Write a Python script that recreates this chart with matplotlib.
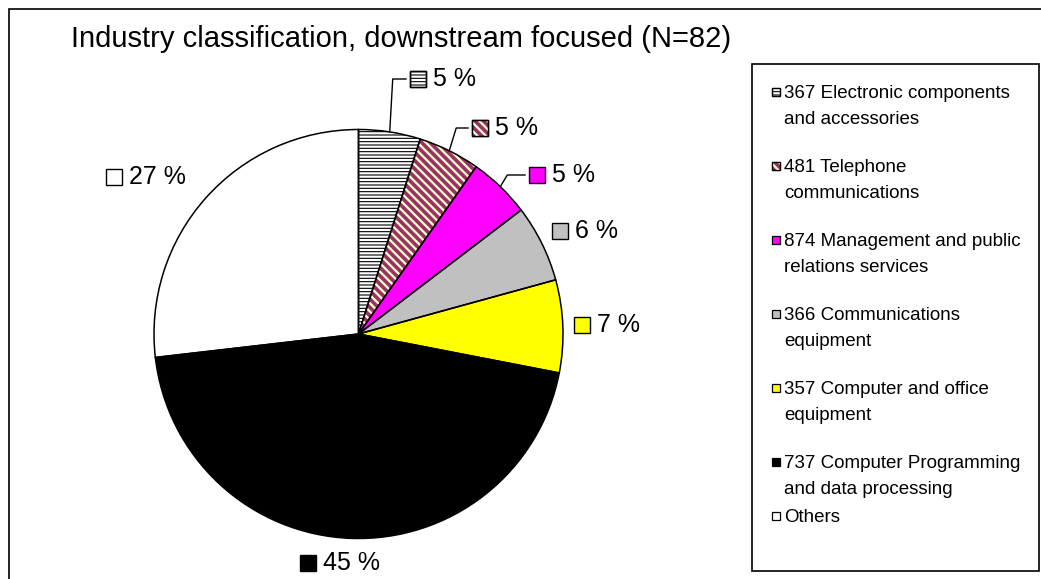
import matplotlib
matplotlib.use("Agg")
import matplotlib.pyplot as plt
from matplotlib.patches import Rectangle
import numpy as np

plt.rcParams['font.family'] = ['Liberation Sans', 'DejaVu Sans']
plt.rcParams['hatch.linewidth'] = 1.0

title = "Industry classification, downstream focused (N=82)"
categories = ["367 Electronic components\nand accessories",
              "481 Telephone\ncommunications",
              "874 Management and public\nrelations services",
              "366 Communications\nequipment",
              "357 Computer and office\nequipment",
              "737 Computer Programming\nand data processing",
              "Others"]
counts = [4, 4, 4, 5, 6, 37, 22]
pct_labels = ["5 %", "5 %", "5 %", "6 %", "7 %", "45 %", "27 %"]

facecolors = ["white", "#993366", "#FF00FF", "#C0C0C0", "#FFFF00", "black", "white"]
hatches = ["-----", "\\\\\\\\", None, None, None, None, None]
hatchcolors = ["black", "#FFFFCC", None, None, None, None, None]
hatchwidths = [0.8, 1.6, 1, 1, 1, 1, 1]

W, H = 1041, 579
fig = plt.figure(figsize=(W / 100, H / 100), dpi=100)
ax = fig.add_axes([0, 0, 1, 1])


def Y(py):
    return H - py


cx, cy, R = 358.5, Y(334), 204.5

# fill + hatch layer
wedges, _ = ax.pie(counts, center=(cx, cy), radius=R, startangle=90,
                   counterclock=False, frame=True,
                   wedgeprops=dict(linewidth=0))
for w, fc, h, hc, hw in zip(wedges, facecolors, hatches, hatchcolors, hatchwidths):
    w.set_facecolor(fc)
    if h:
        w.set_hatch(h)
        w.set_edgecolor(hc)
        if hasattr(w, 'set_hatch_linewidth'):
            w.set_hatch_linewidth(hw)
    else:
        w.set_edgecolor(fc)
# outline layer
outl, _ = ax.pie(counts, center=(cx, cy), radius=R, startangle=90,
                 counterclock=False, frame=True,
                 wedgeprops=dict(fill=False, edgecolor='black', linewidth=1.1))
ax.set_xlim(0, W)
ax.set_ylim(0, H)
ax.set_aspect('equal')
ax.axis('off')

# outer frame of chart area (extends beyond the image right/bottom)
ax.add_patch(Rectangle((9, Y(620)), 1100, 611, fill=False, edgecolor='black',
                       linewidth=1.2, clip_on=False))

ax.text(71, Y(47), title, fontsize=21, ha='left', va='baseline')


def swatch(x, y, size, i, lw=1.0):
    r = Rectangle((x - size / 2, y - size / 2), size, size,
                  facecolor=facecolors[i], edgecolor='black', linewidth=lw, zorder=5)
    ax.add_patch(r)
    if hatches[i]:
        r2 = Rectangle((x - size / 2, y - size / 2), size, size,
                       facecolor='none', edgecolor=hatchcolors[i],
                       hatch=hatches[i], linewidth=0, zorder=6)
        if hasattr(r2, 'set_hatch_linewidth'):
            r2.set_hatch_linewidth(hatchwidths[i])
        ax.add_patch(r2)
        r3 = Rectangle((x - size / 2, y - size / 2), size, size,
                       facecolor='none', edgecolor='black', linewidth=lw, zorder=7)
        ax.add_patch(r3)


# data labels (marker centre positions, pixel coords)
label_pos = [(418, 79), (480, 128), (537, 175), (560, 231), (582, 325), (308, 563), (114, 177)]
leader = [True, True, True, False, False, False, False]
for i, (w, (lx, ly), lab) in enumerate(zip(wedges, label_pos, pct_labels)):
    swatch(lx, Y(ly), 16, i)
    ax.text(lx + 15, Y(ly + 7), lab, fontsize=18, ha='left', va='baseline')
    if leader[i]:
        ang = np.deg2rad((w.theta1 + w.theta2) / 2)
        sx, sy = cx + R * np.cos(ang), cy + R * np.sin(ang)
        ex = lx - 12
        bx = sx + (3 if i == 0 else 7)
        ax.plot([sx, bx, ex], [sy, Y(ly), Y(ly)], color='black', linewidth=1)

# legend box
ax.add_patch(Rectangle((752, Y(571)), 1039 - 752, 571 - 64, fill=False,
                       edgecolor='black', linewidth=1.2))
leg_first = [92, 166, 240, 314, 388, 462, 516]
line_step = 26
for i, (lab, ly) in enumerate(zip(categories, leg_first)):
    swatch(776, Y(ly), 8.5, i, lw=0.9)
    for k, line in enumerate(lab.split("\n")):
        ax.text(784, Y(ly + 6.5 + k * line_step), line, fontsize=13.5,
                ha='left', va='baseline')

fig.savefig("out.png", dpi=100)
